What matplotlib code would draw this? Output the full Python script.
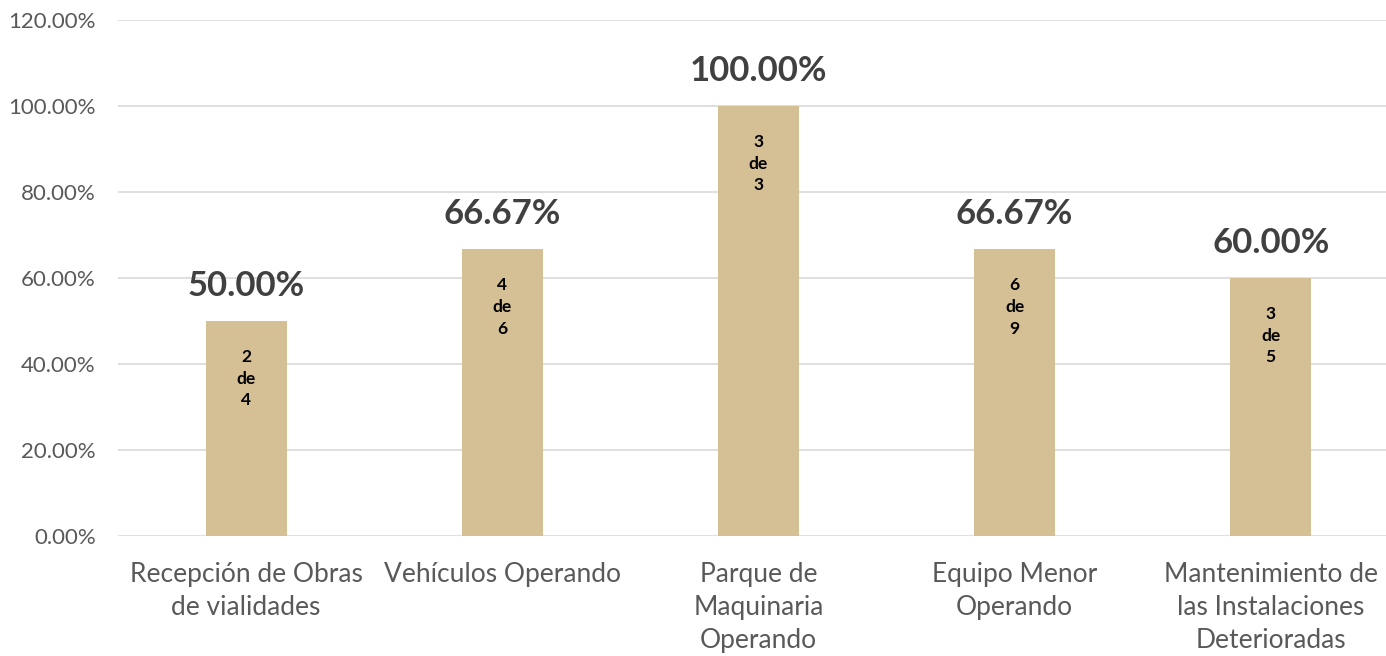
import matplotlib.pyplot as plt
from matplotlib.ticker import FuncFormatter

plt.rcParams['font.family'] = ['Lato', 'DejaVu Sans']

# datos
categorias = ['Recepción de Obras\nde vialidades', 'Vehículos Operando',
              'Parque de\nMaquinaria\nOperando', 'Equipo Menor\nOperando',
              'Mantenimiento de\nlas Instalaciones\nDeterioradas']
cumplidos = [2, 4, 3, 6, 3]
totales = [4, 6, 3, 9, 5]
porcentajes = [50.00, 66.67, 100.00, 66.67, 60.00]

fig = plt.figure(figsize=(13.86, 6.56), dpi=100)
ax = fig.add_axes([118 / 1386, 120 / 656, 1268 / 1386, 516 / 656])

x = list(range(len(categorias)))
bars = ax.bar(x, porcentajes, width=0.316, color='#D5BF95', zorder=2)

ax.set_xlim(-0.5, 4.45)
ax.set_ylim(0, 120)
ax.set_yticks(range(0, 121, 20))
ax.yaxis.set_major_formatter(FuncFormatter(lambda v, p: f'{v:.2f}%'))
ax.grid(axis='y', color='#D9D9D9', linewidth=1.2, zorder=0)
for s in ax.spines.values():
    s.set_visible(False)
ax.tick_params(length=0)
ax.tick_params(axis='y', labelsize=16, labelcolor='#595959', pad=16)
ax.set_xticks(x)
ax.set_xticklabels(categorias, fontsize=19, color='#595959', linespacing=1.4)
ax.tick_params(axis='x', pad=19)

# etiquetas
for b, p, c, t in zip(bars, porcentajes, cumplidos, totales):
    cx = b.get_x() + b.get_width() / 2
    ax.annotate(f'{p:.2f}%', (cx, p), xytext=(0, 14), textcoords='offset points',
                ha='center', va='bottom', fontsize=25, fontweight='bold', color='#404040')
    ax.annotate(f'{c}\nde\n{t}', (cx, p), xytext=(0, -20), textcoords='offset points',
                ha='center', va='top', fontsize=12.5, fontweight='bold', color='black',
                linespacing=1.45)

plt.savefig('out.png', dpi=100)
